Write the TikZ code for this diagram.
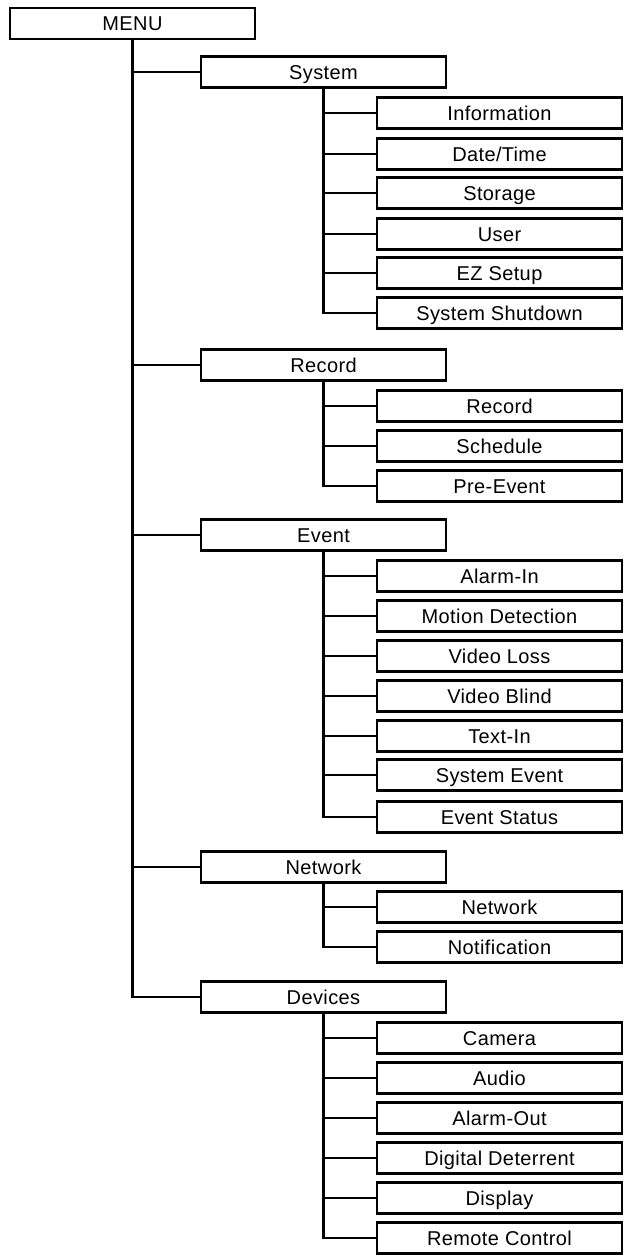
\documentclass[tikz,border=0pt]{standalone}
\usepackage{fontspec}
\setmainfont{Liberation Sans}[LetterSpace=2]
\begin{document}
\begin{tikzpicture}[x=1pt,y=-1pt,
  box/.style={draw=black,line width=2.2pt,rectangle,minimum width=245pt,minimum height=31pt,inner sep=0pt,text height=14pt,text depth=0pt,font=\fontsize{20}{24}\selectfont,fill=white},
  conn/.style={line width=2.2pt}]
\useasboundingbox (0,0) rectangle (626,1255);
\node[box] (menu) at (132.5,23.5) {MENU};
% categories
\node[box] (sys) at (323.5,72) {System};
\node[box] (rec) at (323.5,365) {Record};
\node[box] (evt) at (323.5,535) {Event};
\node[box] (net) at (323.5,867) {Network};
\node[box] (dev) at (323.5,997) {Devices};
% leaves
\foreach \n/\y/\t in {info/113/Information,date/154/Date\slash Time,stor/193/Storage,user/234/User,ez/273/EZ Setup,shut/313/System Shutdown,
  rrec/406/Record,sched/446/Schedule,pre/486/Pre-Event,
  alin/576/Alarm-In,mot/616/Motion Detection,vloss/656/Video Loss,vblind/696/Video Blind,txt/736/Text-In,sevt/775/System Event,estat/817/Event Status,
  nnet/907/Network,notif/947/Notification,
  cam/1038/Camera,aud/1078/Audio,alout/1118/Alarm-Out,dig/1158/Digital Deterrent,disp/1198/Display,rem/1238/Remote Control}
  {\node[box] (\n) at (499.5,\y) {\t};}
% main trunk
\foreach \c in {sys,rec,evt,net,dev}
  \draw[conn] (menu.south) |- (\c.west);
% sub trunks
\foreach \c in {info,date,stor,user,ez,shut}
  \draw[conn] (sys.south) |- (\c.west);
\foreach \c in {rrec,sched,pre}
  \draw[conn] (rec.south) |- (\c.west);
\foreach \c in {alin,mot,vloss,vblind,txt,sevt,estat}
  \draw[conn] (evt.south) |- (\c.west);
\foreach \c in {nnet,notif}
  \draw[conn] (net.south) |- (\c.west);
\foreach \c in {cam,aud,alout,dig,disp,rem}
  \draw[conn] (dev.south) |- (\c.west);
\end{tikzpicture}
\end{document}
